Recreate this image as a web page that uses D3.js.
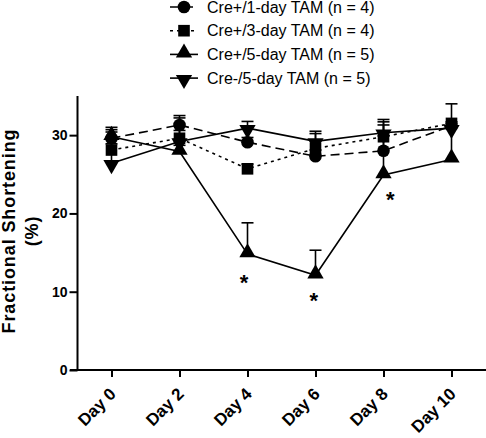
<!DOCTYPE html>
<html><head><meta charset="utf-8">
<script src="https://cdn.jsdelivr.net/npm/d3@7"></script>
<style>body{margin:0;background:#fff}svg{display:block}</style>
</head><body>
<script>
const days = [0, 2, 4, 6, 8, 10];
const dayLabels = ["Day 0", "Day 2", "Day 4", "Day 6", "Day 8", "Day 10"];
const yTicks = [0, 10, 20, 30];
const seriesNames = ["Cre+/1-day TAM (n = 4)", "Cre+/3-day TAM (n = 4)", "Cre+/5-day TAM (n = 5)", "Cre-/5-day TAM (n = 5)"];
const cre1Mean = [29.6, 31.3, 29.1, 27.3, 28.0, 31.2];
const cre1Err  = [1.4, 1.2, 0.6, 0.8, 3.3, 0.5];
const cre3Mean = [28.1, 29.6, 25.7, 28.3, 29.8, 31.5];
const cre3Err  = [0.8, 1.0, 0.6, 1.9, 2.2, 2.5];
const cre5Mean = [29.8, 27.9, 14.8, 12.1, 24.9, 26.9];
const cre5Err  = [0.6, 0.8, 4.0, 3.2, 5.0, 4.6];
const creNegMean = [26.4, 29.2, 30.9, 29.2, 30.3, 30.9];
const creNegErr  = [4.3, 3.0, 0.85, 1.3, 1.4, 0.3];
const starDays = [3.9, 5.95, 8.2];
const starVals = [11.0, 8.7, 21.6];

const W = 486, H = 438;
const svg = d3.select("body").append("svg").attr("width", W).attr("height", H);
const x = d3.scaleLinear().domain([-1, 11]).range([77.5, 485.5]);
const y = d3.scaleLinear().domain([0, 35]).range([370, 96]);
const FONT = "Liberation Sans, Arial, sans-serif";

const series = [
  {name: seriesNames[0], mean: cre1Mean, err: cre1Err, sym: d3.symbolCircle, size: 125, rot: 0, dash: "9,5"},
  {name: seriesNames[1], mean: cre3Mean, err: cre3Err, sym: d3.symbolSquare, size: 135, rot: 0, dash: "3,4"},
  {name: seriesNames[2], mean: cre5Mean, err: cre5Err, sym: d3.symbolTriangle, size: 115, rot: 0, dash: null},
  {name: seriesNames[3], mean: creNegMean, err: creNegErr, sym: d3.symbolTriangle, size: 115, rot: 180, dash: null}
];

// axes
const yAxis = svg.append("g").attr("transform", "translate(77.5,0)")
  .call(d3.axisLeft(y).tickValues(yTicks).tickSize(8).tickSizeOuter(0));
yAxis.select(".domain").attr("stroke-width", 2).attr("d", `M0,${y(35)}V${y(0)}`);
yAxis.selectAll(".tick line").attr("stroke-width", 2);
yAxis.selectAll(".tick text").attr("font-family", FONT)
  .attr("font-weight", "bold").attr("font-size", 14).attr("fill", "#000").attr("x", -10);

const xAxis = svg.append("g").attr("transform", `translate(0,370)`)
  .call(d3.axisBottom(x).tickValues(days).tickFormat((d, i) => dayLabels[i]).tickSize(7).tickSizeOuter(0));
xAxis.select(".domain").attr("stroke-width", 2).attr("d", `M70,0H486`);
xAxis.selectAll(".tick line").attr("stroke-width", 2);
xAxis.selectAll(".tick text").attr("font-family", FONT)
  .attr("font-weight", "bold").attr("font-size", 17).attr("fill", "#000")
  .attr("text-anchor", "end").attr("dy", 0).attr("y", 0)
  .attr("transform", "translate(5,25) rotate(-45)");

// y title
const yt = svg.append("text").attr("font-family", FONT)
  .attr("font-weight", "bold").attr("font-size", 18).attr("letter-spacing", 0.9).attr("text-anchor", "middle")
  .attr("transform", "translate(15,231) rotate(-90)");
yt.append("tspan").attr("x", 0).attr("y", 0).text("Fractional Shortening");
yt.append("tspan").attr("x", 0).attr("y", 23).text("(%)");

// lines
const lineGen = d3.line().x((d, i) => x(days[i])).y(d => y(d));
series.forEach(s => {
  svg.append("path").datum(s.mean).attr("d", lineGen).attr("fill", "none")
    .attr("stroke", "#000").attr("stroke-width", 1.6)
    .attr("stroke-dasharray", s.dash);
});
// error bars (upward)
series.forEach(s => {
  const g = svg.append("g").attr("stroke", "#000").attr("stroke-width", 1.6);
  s.mean.forEach((m, i) => {
    const cx = x(days[i]);
    g.append("line").attr("x1", cx).attr("x2", cx).attr("y1", y(m)).attr("y2", y(m + s.err[i]));
    g.append("line").attr("x1", cx - 6).attr("x2", cx + 6).attr("y1", y(m + s.err[i])).attr("y2", y(m + s.err[i]));
  });
});
// markers
series.forEach(s => {
  svg.append("g").selectAll("path").data(s.mean).join("path")
    .attr("d", d3.symbol().type(s.sym).size(s.size))
    .attr("transform", (d, i) => `translate(${x(days[i])},${y(d) + (s.sym === d3.symbolTriangle ? (s.rot ? 1.5 : -1.5) : 0)}) rotate(${s.rot})`)
    .attr("fill", "#000");
});
// stars
svg.append("g").selectAll("text").data(starDays).join("text")
  .attr("x", d => x(d)).attr("y", (d, i) => y(starVals[i]))
  .attr("text-anchor", "middle").attr("font-family", FONT).attr("font-weight", "bold")
  .attr("font-size", 22).attr("dominant-baseline", "middle").text("*");

// legend
const lg = svg.append("g");
series.forEach((s, i) => {
  const ly = 7 + i * 23.7;
  lg.append("line").attr("x1", 170).attr("x2", 198).attr("y1", ly).attr("y2", ly)
    .attr("stroke", "#000").attr("stroke-width", 1.6).attr("stroke-dasharray", s.dash);
  lg.append("path").attr("d", d3.symbol().type(s.sym).size(s.size))
    .attr("transform", `translate(184,${ly + (s.sym === d3.symbolTriangle ? (s.rot ? 1.5 : -1.5) : 0)}) rotate(${s.rot})`);
  lg.append("text").attr("x", 207).attr("y", ly).attr("dominant-baseline", "central")
    .attr("font-family", FONT).attr("font-size", 16).text(s.name);
});
</script>
</body></html>
